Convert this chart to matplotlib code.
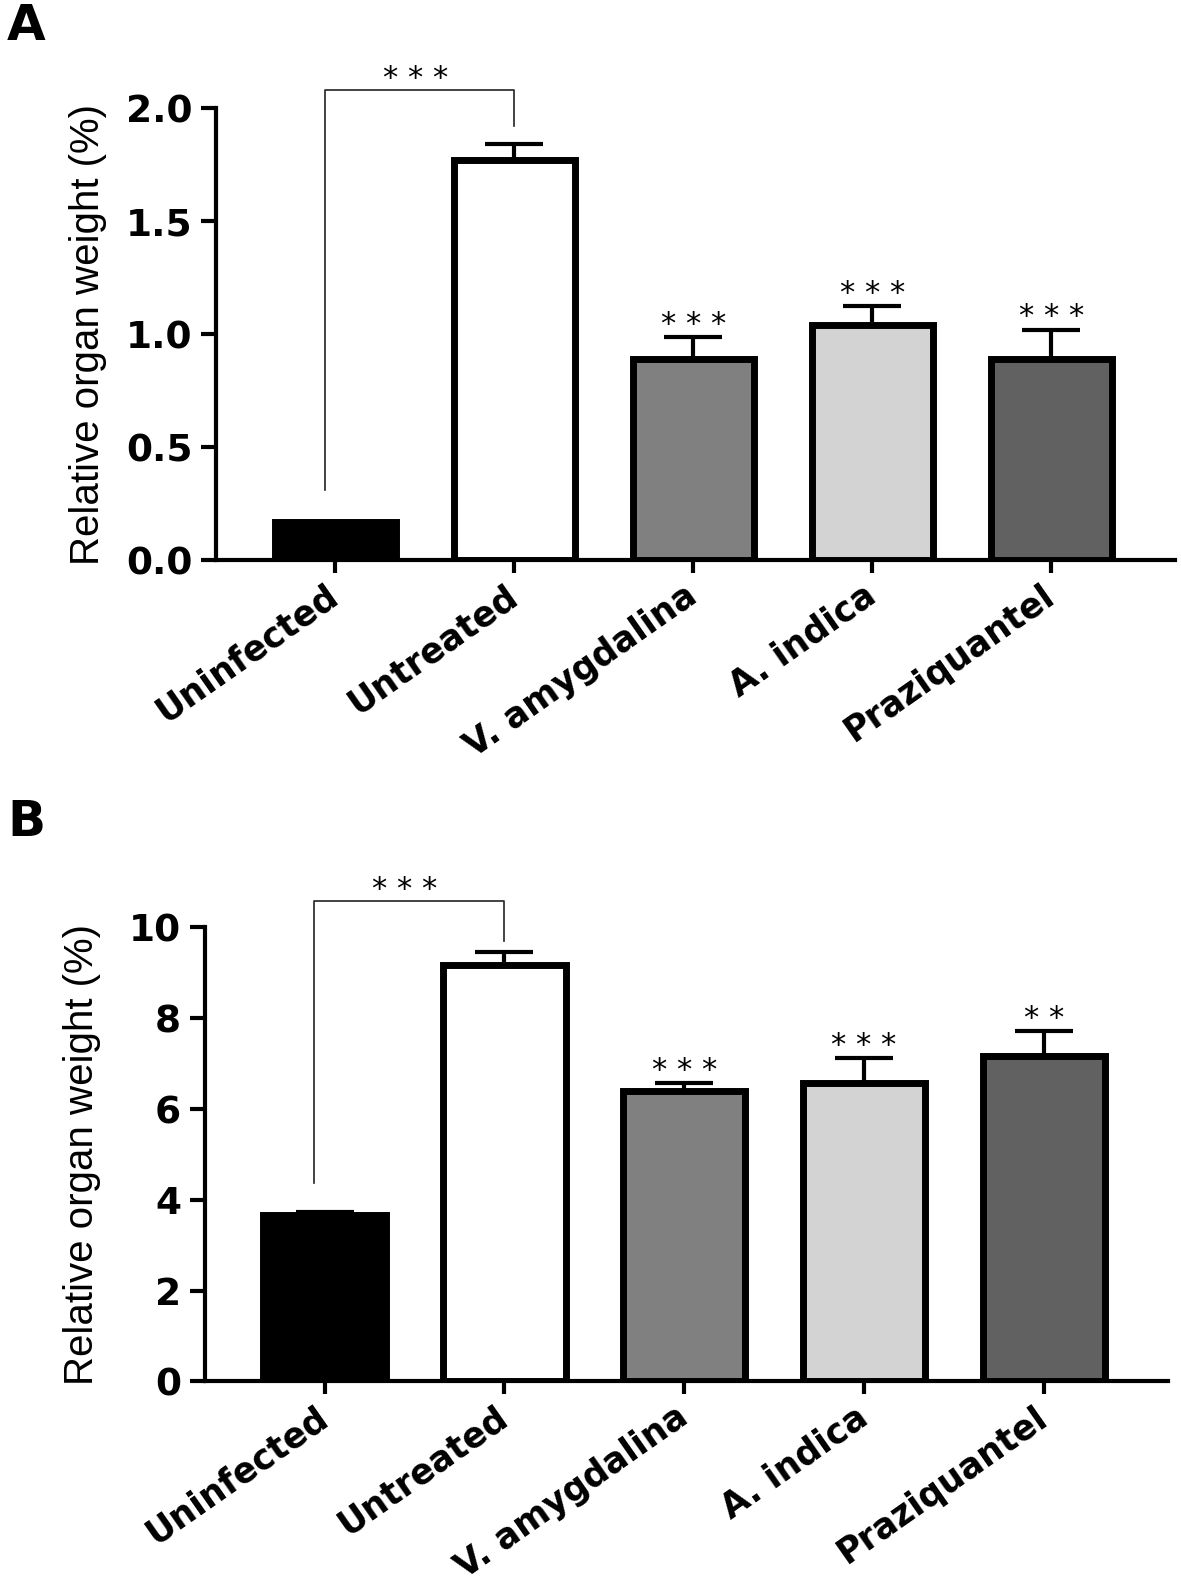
import matplotlib.pyplot as plt
import matplotlib.transforms as mtransforms
import numpy as np
from matplotlib.ticker import FormatStrFormatter

plt.rcParams['font.family'] = ['DejaVu Sans']
plt.rcParams['font.weight'] = 'bold'

groups = ['Uninfected', 'Untreated', 'V. amygdalina', 'A. indica', 'Praziquantel']
bar_colors = ['black', 'white', '#808080', '#d3d3d3', '#616161']

# Panel A - relative organ weight (%), mean and upper error
mean_a = [0.17, 1.77, 0.89, 1.04, 0.89]
err_a = [0.0, 0.07, 0.095, 0.085, 0.13]
stars_a = ['', '', '* * *', '* * *', '* * *']

# Panel B
mean_b = [3.66, 9.18, 6.40, 6.57, 7.17]
err_b = [0.08, 0.27, 0.18, 0.55, 0.55]
stars_b = ['', '', '* * *', '* * *', '* *']

# significance bracket Uninfected vs Untreated: left leg end, top, right leg end
bracket_a = [0.31, 2.08, 1.92]
bracket_b = [4.37, 10.59, 9.71]


def draw_panel(fig, ax, means, errs, stars, bracket, ymax, ystep, fmt):
    x = np.arange(len(groups))
    ax.bar(x, means, width=0.68, color=bar_colors, edgecolor='black',
           linewidth=5, zorder=3)
    ax.errorbar(x, means, yerr=[np.zeros(len(x)), errs], fmt='none',
                ecolor='black', elinewidth=3, capsize=21, capthick=3, zorder=2)

    # stars above the error bars
    for i in range(len(x)):
        if stars[i]:
            ax.annotate(stars[i], xy=(x[i], means[i] + errs[i]), xytext=(0, 3),
                        textcoords='offset points', ha='center', va='baseline',
                        fontsize=22, fontweight='normal', annotation_clip=False)

    # bracket between the first two groups
    x0, x1 = -0.06, 1.0
    ax.plot([x0, x0, x1, x1], [bracket[0], bracket[1], bracket[1], bracket[2]],
            color='#222222', linewidth=1.2, clip_on=False, zorder=4)
    ax.annotate('* * *', xy=((x0 + x1) / 2, bracket[1]), xytext=(-3, 2),
                textcoords='offset points', ha='center', va='baseline',
                fontsize=22, fontweight='normal', annotation_clip=False)

    ax.set_xlim(-0.667, 4.69)
    ax.set_ylim(0, ymax)
    ax.set_yticks(np.arange(0, ymax + ystep / 2, ystep))
    ax.yaxis.set_major_formatter(FormatStrFormatter(fmt))
    ax.set_xticks(x)
    ax.set_xticklabels(groups, rotation=35, ha='right', va='center',
                       rotation_mode='anchor', fontsize=25, fontweight='bold')
    shift = mtransforms.ScaledTranslation(9 / 72, 0, fig.dpi_scale_trans)
    for lab in ax.get_xticklabels():
        lab.set_transform(lab.get_transform() + shift)

    for side in ['top', 'right']:
        ax.spines[side].set_visible(False)
    for side in ['left', 'bottom']:
        ax.spines[side].set_linewidth(3)
    ax.tick_params(axis='y', length=11, width=3, labelsize=27, pad=6)
    ax.tick_params(axis='x', length=9, width=3, pad=14)

    ax.set_ylabel('Relative organ weight (%)', fontsize=29, fontweight='normal',
                  family='Liberation Sans')


fig = plt.figure(figsize=(11.81, 15.87), dpi=100)

ax_a = fig.add_axes([0.1829, 0.6471, 0.8120, 0.2848])
draw_panel(fig, ax_a, mean_a, err_a, stars_a, bracket_a, 2.0, 0.5, '%.1f')
ax_a.yaxis.set_label_coords(-0.1137, 0.5)

ax_b = fig.add_axes([0.1733, 0.1295, 0.8157, 0.2861])
draw_panel(fig, ax_b, mean_b, err_b, stars_b, bracket_b, 10, 2, '%d')
ax_b.yaxis.set_label_coords(-0.1077, 0.5)

fig.text(0.006, 0.999, 'A', fontsize=36, fontweight='bold', va='top')
fig.text(0.006, 0.497, 'B', fontsize=36, fontweight='bold', va='top')

fig.savefig('out.png', dpi=100)
